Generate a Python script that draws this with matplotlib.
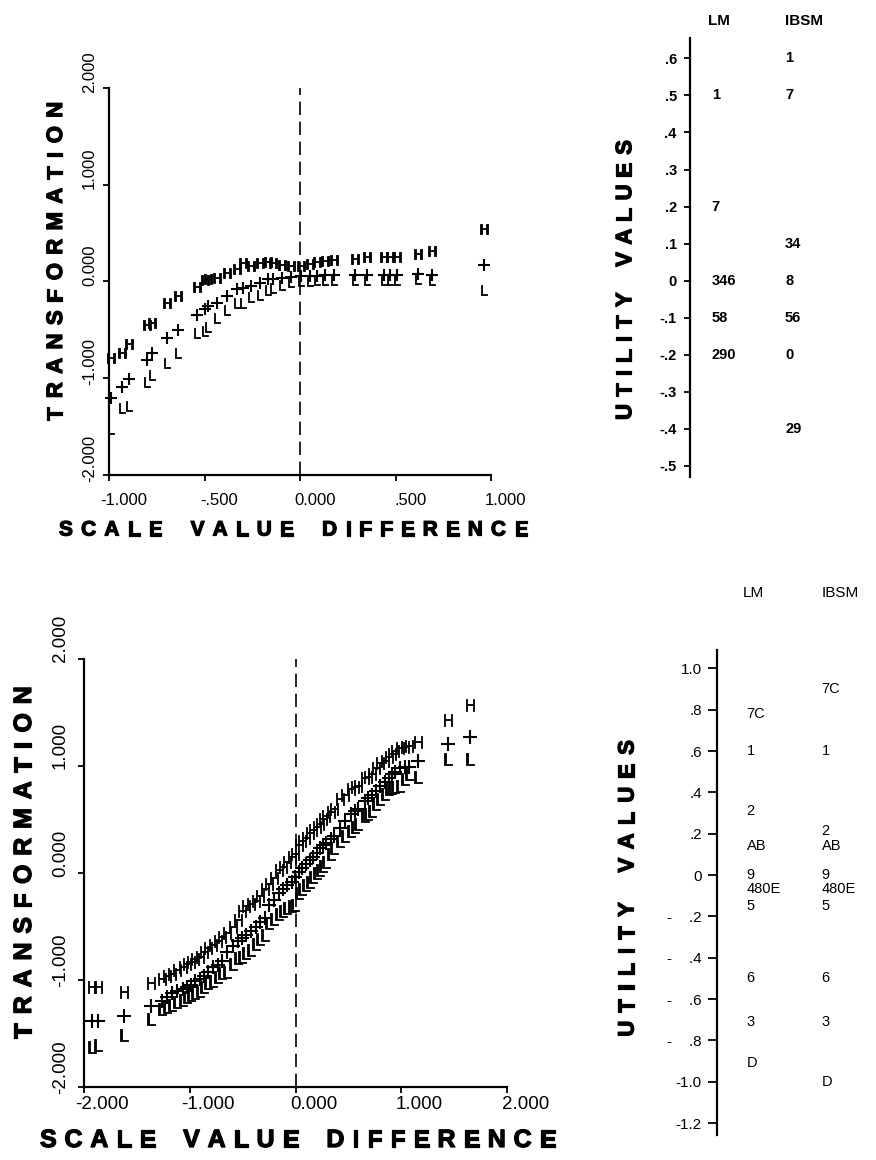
import matplotlib
matplotlib.use('Agg')
import matplotlib.pyplot as plt
import matplotlib.patheffects as pe
from matplotlib.transforms import ScaledTranslation, blended_transform_factory
from matplotlib.font_manager import FontProperties

plt.rcParams['font.family'] = ['Liberation Sans', 'DejaVu Sans']

# ---------------- data ----------------
# top panel: scale value difference vs transformation (High / mid / Low)
top_x = [-0.99, -0.93, -0.895, -0.80, -0.775, -0.695, -0.64, -0.54, -0.50, -0.48,
         -0.435, -0.38, -0.33, -0.30, -0.256, -0.21, -0.165, -0.14, -0.093, -0.048,
         0.006, 0.05, 0.088, 0.133, 0.178, 0.29, 0.35, 0.44, 0.47, 0.51,
         0.62, 0.69, 0.963]
top_hi = [-0.79, -0.74, -0.65, -0.45, -0.43, -0.23, -0.15, -0.06, 0.01, 0.02,
          0.03, 0.09, 0.13, 0.19, 0.16, 0.19, 0.20, 0.19, 0.17, 0.16,
          0.16, 0.18, 0.20, 0.21, 0.22, 0.23, 0.25, 0.25, 0.25, 0.25,
          0.28, 0.31, 0.54]
top_mid = [-1.21, -1.09, -1.01, -0.81, -0.74, -0.59, -0.50, -0.35, -0.29, -0.26,
           -0.22, -0.15, -0.08, -0.07, -0.05, -0.02, 0.02, 0.02, 0.035, 0.045,
           0.05, 0.05, 0.055, 0.06, 0.06, 0.06, 0.06, 0.06, 0.06, 0.06,
           0.07, 0.06, 0.17]
top_lo = [-1.53, -1.31, -1.29, -1.04, -0.97, -0.85, -0.74, -0.54, -0.52, -0.47,
          -0.38, -0.30, -0.23, -0.23, -0.16, -0.14, -0.09, -0.07, -0.04, -0.01,
          0.0, 0.005, 0.01, 0.01, 0.01, 0.01, 0.01, 0.01, 0.01, 0.01,
          0.02, 0.01, -0.09]

# bottom panel
bot_x = [-1.93, -1.87, -1.63, -1.37,
         -1.27, -1.22, -1.17, -1.12, -1.07, -1.03, -0.99, -0.95, -0.91, -0.87,
         -0.83, -0.78, -0.74, -0.70, -0.65, -0.59, -0.55, -0.51, -0.47, -0.42,
         -0.38, -0.34, -0.29, -0.25, -0.21, -0.16, -0.12, -0.08, -0.04, -0.01,
         0.03, 0.06, 0.10, 0.13, 0.16, 0.20, 0.23, 0.26, 0.29, 0.33,
         0.36, 0.42, 0.47, 0.52, 0.56, 0.59, 0.65, 0.68, 0.72, 0.76,
         0.80, 0.84, 0.88, 0.91, 0.94, 0.99, 1.03, 1.07, 1.16,
         1.44, 1.65]
bot_hi = [-1.06, -1.06, -1.11, -1.03,
          -0.99, -0.96, -0.94, -0.90, -0.88, -0.85, -0.83, -0.80, -0.78, -0.74,
          -0.70, -0.67, -0.63, -0.60, -0.56, -0.50, -0.44, -0.35, -0.31, -0.29,
          -0.26, -0.21, -0.15, -0.10, -0.05, 0.03, 0.06, 0.10, 0.15, 0.18,
          0.26, 0.30, 0.33, 0.37, 0.40, 0.43, 0.46, 0.50, 0.53, 0.57,
          0.60, 0.69, 0.73, 0.78, 0.80, 0.81, 0.89, 0.90, 0.92, 0.98,
          1.03, 1.05, 1.08, 1.11, 1.14, 1.17, 1.18, 1.19, 1.22,
          1.43, 1.57]
bot_mid = [-1.38, -1.38, -1.33, -1.24,
           -1.19, -1.16, -1.12, -1.10, -1.08, -1.06, -1.04, -1.01, -0.99, -0.96,
           -0.92, -0.88, -0.86, -0.82, -0.74, -0.68, -0.63, -0.61, -0.58, -0.54,
           -0.50, -0.46, -0.42, -0.30, -0.25, -0.19, -0.15, -0.11, -0.08, -0.04,
           0.01, 0.05, 0.08, 0.12, 0.15, 0.19, 0.23, 0.26, 0.28, 0.32,
           0.35, 0.42, 0.49, 0.55, 0.58, 0.60, 0.67, 0.70, 0.73, 0.77,
           0.81, 0.85, 0.89, 0.92, 0.94, 0.98, 0.99, 0.99, 1.05,
           1.20, 1.27]
bot_lo = [-1.62, -1.60, -1.51, -1.36,
          -1.27, -1.25, -1.23, -1.20, -1.18, -1.16, -1.14, -1.12, -1.10, -1.06,
          -1.03, -1.01, -0.97, -0.93, -0.92, -0.85, -0.79, -0.78, -0.75, -0.72,
          -0.66, -0.62, -0.58, -0.47, -0.43, -0.38, -0.35, -0.33, -0.31, -0.30,
          -0.19, -0.15, -0.11, -0.08, -0.04, 0.00, 0.03, 0.07, 0.10, 0.18,
          0.23, 0.30, 0.35, 0.39, 0.43, 0.46, 0.53, 0.55, 0.58, 0.64,
          0.69, 0.74, 0.78, 0.79, 0.80, 0.81, 0.88, 0.92, 0.90,
          1.06, 1.06]

top_xticks = [-1.0, -0.5, 0.0, 0.5, 1.0]
top_xticklabels = ['-1.000', '-.500', '0.000', '.500', '1.000']
top_yticks = [-2, -1, 0, 1, 2]
top_yticklabels = ['-2.000', '-1.000', '0.000', '1.000', '2.000']
bot_xticks = [-2, -1, 0, 1, 2]
bot_xticklabels = ['-2.000', '-1.000', '0.000', '1.000', '2.000']
bot_yticks = [-2, -1, 0, 1, 2]
bot_yticklabels = ['-2.000', '-1.000', '0.000', '1.000', '2.000']

# utility scales
util_cols = ['LM', 'IBSM']
u1_ticks = [0.6, 0.5, 0.4, 0.3, 0.2, 0.1, 0.0, -0.1, -0.2, -0.3, -0.4, -0.5]
u1_ticklabels = ['.6', '.5', '.4', '.3', '.2', '.1', '0', '-.1', '-.2', '-.3', '-.4', '-.5']
u1_lm_labels = ['1', '7', '346', '58', '290']
u1_lm_vals = [0.5, 0.2, 0.0, -0.1, -0.2]
u1_ibsm_labels = ['1', '7', '34', '8', '56', '0', '29']
u1_ibsm_vals = [0.6, 0.5, 0.1, 0.0, -0.1, -0.2, -0.4]

u2_ticks = [1.0, 0.8, 0.6, 0.4, 0.2, 0.0, -0.2, -0.4, -0.6, -0.8, -1.0, -1.2]
u2_ticklabels = ['1.0', '.8', '.6', '.4', '.2', '0', '-    .2', '-    .4', '-    .6', '-    .8',
                 '-1.0', '-1.2']
u2_lm_labels = ['7C', '1', '2', 'AB', '9', '480E', '5', '6', '3', 'D']
u2_lm_vals = [0.78, 0.60, 0.31, 0.14, 0.0, -0.068, -0.15, -0.50, -0.71, -0.91]
u2_ibsm_labels = ['7C', '1', '2', 'AB', '9', '480E', '5', '6', '3', 'D']
u2_ibsm_vals = [0.90, 0.60, 0.215, 0.14, 0.0, -0.068, -0.15, -0.50, -0.71, -1.0]

# ---------------- figure ----------------
W, H = 876, 1160
fig = plt.figure(figsize=(W / 100, H / 100), dpi=100)
fig.patch.set_facecolor('white')


def px_axes(left, top, right, bottom):
    return fig.add_axes([left / W, 1 - bottom / H, (right - left) / W, (bottom - top) / H])


def offset_labels(labels, dx, dy):
    tr = ScaledTranslation(dx / 100, dy / 100, fig.dpi_scale_trans)
    for lab in labels:
        lab.set_transform(lab.get_transform() + tr)


def style_plot(ax, xlim, ylim, xt, xtl, yt, ytl, fs, xpad, ypad, xoff, yoff):
    ax.set_xlim(*xlim)
    ax.set_ylim(*ylim)
    for s in ['top', 'right']:
        ax.spines[s].set_visible(False)
    for s in ['left', 'bottom']:
        ax.spines[s].set_linewidth(1.6)
    ax.set_xticks(xt, xtl)
    ax.set_yticks(yt, ytl)
    ax.tick_params(direction='out', length=4.5, width=1.3, labelsize=fs)
    ax.tick_params(axis='x', pad=xpad)
    ax.tick_params(axis='y', pad=ypad)
    for lab in ax.get_yticklabels():
        lab.set_rotation(90)
        lab.set_va('center')
    offset_labels(ax.get_xticklabels(), xoff, 0)
    offset_labels(ax.get_yticklabels(), 0, yoff)
    ax.axvline(0, color='black', lw=1.2, dashes=(8, 4))


def hlc(ax, x, hi, mid, lo, ms):
    kw = dict(linestyle='none', color='black', clip_on=False)
    ax.plot(x, hi, marker=r'$\mathrm{H}$', ms=ms, mew=0.6, **kw)
    ax.plot(x, mid, marker='+', ms=ms * 1.2, mew=1.5, **kw)
    ax.plot(x, lo, marker=r'$\mathrm{L}$', ms=ms, mew=0.6, **kw)


# top left
ax1 = px_axes(109, 88, 491, 474.5)
style_plot(ax1, (-1, 1), (-2, 2), top_xticks, top_xticklabels, top_yticks, top_yticklabels,
           12, 9, 4, 15, 16)
hlc(ax1, top_x, top_hi, top_mid, top_lo, 7)

# bottom left
ax2 = px_axes(84.4, 658.7, 507.2, 1087.4)
style_plot(ax2, (-2, 2), (-2, 2), bot_xticks, bot_xticklabels, bot_yticks, bot_yticklabels,
           13.5, 2, 6.5, 18, 20)
hlc(ax2, bot_x, bot_hi, bot_mid, bot_lo, 8.5)


def util_axes(left, top, bottom, ylim, ticks, ticklabels, fs, weight, ticklen, pad):
    ax = px_axes(left, top, W, bottom)
    ax.set_ylim(*ylim)
    ax.set_xlim(0, 1)
    for s in ['top', 'right', 'bottom']:
        ax.spines[s].set_visible(False)
    ax.spines['left'].set_linewidth(1.6)
    ax.set_xticks([])
    ax.set_yticks(ticks, ticklabels)
    ax.tick_params(axis='y', direction='out', length=ticklen, width=1.3, labelsize=fs, pad=pad)
    for lab in ax.get_yticklabels():
        lab.set_fontweight(weight)
    ax.patch.set_alpha(0)
    return ax


ax3 = util_axes(690, 38, 477, (-0.530, 0.655), u1_ticks, u1_ticklabels, 10.5, 'bold', 4.5, 5)
tr3 = blended_transform_factory(ax3.transAxes, ax3.transData)
for lab, v in zip(u1_lm_labels, u1_lm_vals):
    ax3.text(0.117, v, lab, transform=tr3, ha='left', va='center', fontsize=10.5, fontweight='bold')
for lab, v in zip(u1_ibsm_labels, u1_ibsm_vals):
    ax3.text(0.511, v, lab, transform=tr3, ha='left', va='center', fontsize=10.5, fontweight='bold')
ax3.text(0.097, 0.701, util_cols[0], transform=tr3, ha='left', va='center', fontsize=11,
         fontweight='bold', clip_on=False)
ax3.text(0.511, 0.701, util_cols[1], transform=tr3, ha='left', va='center', fontsize=11,
         fontweight='bold', clip_on=False)

ax4 = util_axes(716.7, 650, 1135, (-1.258, 1.089), u2_ticks, u2_ticklabels, 11, 'normal', 6.7, 4)
tr4 = blended_transform_factory(ax4.transAxes, ax4.transData)
for lab, v in zip(u2_lm_labels, u2_lm_vals):
    ax4.text(0.188, v, lab, transform=tr4, ha='left', va='center', fontsize=10.5)
for lab, v in zip(u2_ibsm_labels, u2_ibsm_vals):
    ax4.text(0.659, v, lab, transform=tr4, ha='left', va='center', fontsize=10.5)
ax4.text(0.165, 1.365, util_cols[0], transform=tr4, ha='left', va='center', fontsize=11, clip_on=False)
ax4.text(0.659, 1.365, util_cols[1], transform=tr4, ha='left', va='center', fontsize=11, clip_on=False)

# letter-spaced bold titles
ren = fig.canvas.get_renderer()
thick = [pe.withStroke(linewidth=0.9, foreground='black')]


def spaced(text, a, b, c, size, vertical=False, ratio=3.5):
    fp = FontProperties(family=['Liberation Sans', 'DejaVu Sans'], weight='bold', size=size)
    words = text.split()
    ws = [[ren.get_text_width_height_descent(ch, fp, ismath=False)[0] for ch in w] for w in words]
    total = sum(sum(w) for w in ws)
    n_in = sum(len(w) - 1 for w in words)
    n_w = len(words) - 1
    span = abs(b - a)
    g = (span - total) / (n_in + ratio * n_w)
    pos = 0.0
    for wi, w in enumerate(words):
        for ci, ch in enumerate(w):
            cw = ws[wi][ci]
            cpos = pos + cw / 2
            if vertical:
                ypx = a - cpos
                fig.text(c / W, 1 - ypx / H, ch, rotation=90, ha='center', va='center',
                         fontproperties=fp, path_effects=thick)
            else:
                xpx = a + cpos
                fig.text(xpx / W, 1 - c / H, ch, ha='center', va='center',
                         fontproperties=fp, path_effects=thick)
            pos += cw
            if ci < len(w) - 1:
                pos += g
        pos += ratio * g


spaced('TRANSFORMATION', 420, 101.7, 56.5, 16, vertical=True)
spaced('SCALE VALUE DIFFERENCE', 59, 528, 530, 15)
spaced('UTILITY VALUES', 420, 140, 625.7, 16, vertical=True)
spaced('TRANSFORMATION', 1038.4, 686.3, 24, 18, vertical=True)
spaced('SCALE VALUE DIFFERENCE', 40, 556, 1140, 18)
spaced('UTILITY VALUES', 1036.7, 740, 628, 16, vertical=True)

fig.savefig('out.png', dpi=100, facecolor='white')
